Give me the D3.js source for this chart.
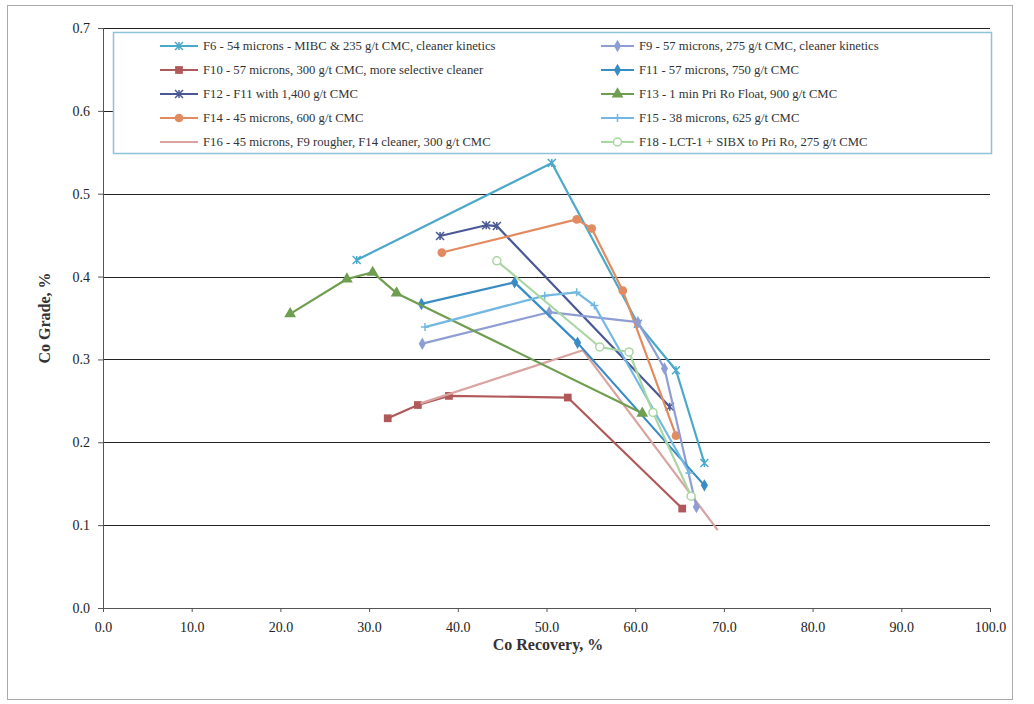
<!DOCTYPE html>
<html>
<head>
<meta charset="utf-8">
<script src="https://cdn.jsdelivr.net/npm/d3@7"></script>
<style>
  body { margin: 0; background: #fff; }
  svg text { font-family: "Liberation Serif", "Times New Roman", serif; }
</style>
</head>
<body>
<script>
// series names, in legend order (left column then right column)
var names = [
  "F6 - 54 microns - MIBC & 235 g/t CMC, cleaner kinetics",
  "F10 - 57 microns, 300 g/t CMC, more selective cleaner",
  "F12 - F11 with 1,400 g/t CMC",
  "F14 - 45 microns, 600 g/t CMC",
  "F16 - 45 microns, F9 rougher, F14 cleaner, 300 g/t CMC",
  "F9 - 57 microns, 275 g/t CMC, cleaner kinetics",
  "F11 - 57 microns, 750 g/t CMC",
  "F13 - 1 min Pri Ro Float, 900 g/t CMC",
  "F15 - 38 microns, 625 g/t CMC",
  "F18 - LCT-1 + SIBX to Pri Ro, 275 g/t CMC"
]

// recovery (x) and grade (y) per series
var f6_x  = [28.6, 50.6, 60.3, 64.6, 67.8]
var f6_y  = [0.420, 0.537, 0.343, 0.287, 0.175]
var f10_x = [32.1, 35.5, 39.0, 52.4, 65.3]
var f10_y = [0.229, 0.245, 0.256, 0.254, 0.120]
var f12_x = [38.0, 43.2, 44.4, 63.9]
var f12_y = [0.449, 0.462, 0.461, 0.243]
var f14_x = [38.2, 53.4, 55.1, 58.6, 64.6]
var f14_y = [0.429, 0.469, 0.458, 0.383, 0.208]
var f16_x = [35.8, 54.1, 69.3]
var f16_y = [0.247, 0.311, 0.094]
var f9_x  = [36.0, 50.3, 60.3, 63.3, 66.9]
var f9_y  = [0.319, 0.357, 0.345, 0.289, 0.122]
var f11_x = [35.9, 46.4, 53.5, 67.8]
var f11_y = [0.367, 0.393, 0.320, 0.148]
var f13_x = [21.1, 27.5, 30.4, 33.1, 60.8]
var f13_y = [0.355, 0.397, 0.405, 0.380, 0.235]
var f15_x = [36.3, 49.8, 53.4, 55.4, 66.1]
var f15_y = [0.339, 0.377, 0.381, 0.365, 0.163]
var f18_x = [44.4, 56.0, 59.3, 62.0, 66.3]
var f18_y = [0.419, 0.315, 0.309, 0.236, 0.135]

var xs = [f6_x, f10_x, f12_x, f14_x, f16_x, f9_x, f11_x, f13_x, f15_x, f18_x]
var ys = [f6_y, f10_y, f12_y, f14_y, f16_y, f9_y, f11_y, f13_y, f15_y, f18_y]

var colors = ["#4aa8c8", "#b0585a", "#4a5896", "#e38b60", "#d9a3a0",
              "#8e9ed2", "#3a8cc4", "#6f9e50", "#72b8e2", "#a9d6a2"]
var markers = ["x", "square", "x", "circle", "none",
               "diamond", "diamond", "triangle", "plus", "ocircle"]

var xTicks = [0, 10, 20, 30, 40, 50, 60, 70, 80, 90, 100]
var yTicks = [0, 0.1, 0.2, 0.3, 0.4, 0.5, 0.6, 0.7]

var width = 1034, height = 704
var margin = {top: 28, right: 44, bottom: 96, left: 103}

var svg = d3.select("body").append("svg")
    .attr("width", width)
    .attr("height", height)

// outer frame of the scanned figure
svg.append("rect")
    .attr("x", 7.5).attr("y", 5.5)
    .attr("width", 1005).attr("height", 694)
    .attr("fill", "none")
    .attr("stroke", "#aaa")
    .attr("stroke-width", 1)

var x = d3.scaleLinear().domain([0, 100]).range([margin.left, width - margin.right])
var y = d3.scaleLinear().domain([0, 0.7]).range([height - margin.bottom, margin.top])

// horizontal gridlines
svg.append("g")
  .selectAll("line")
  .data(yTicks.slice(1))
  .enter().append("line")
    .attr("x1", x(0)).attr("x2", x(100))
    .attr("y1", function(d) { return Math.round(y(d)) + 0.5 })
    .attr("y2", function(d) { return Math.round(y(d)) + 0.5 })
    .attr("stroke", "#222")
    .attr("stroke-width", 1.2)

// axes
var gx = svg.append("g")
    .attr("transform", "translate(0," + y(0) + ")")
    .call(d3.axisBottom(x).tickValues(xTicks).tickFormat(d3.format(".1f")).tickSize(4).tickPadding(10))
var gy = svg.append("g")
    .attr("transform", "translate(" + x(0) + ",0)")
    .call(d3.axisLeft(y).tickValues(yTicks).tickFormat(d3.format(".1f")).tickSize(5).tickPadding(8))

svg.selectAll(".domain").attr("stroke", "#555")
svg.selectAll(".tick line").attr("stroke", "#555")
svg.selectAll(".tick text")
    .attr("fill", "#222")
    .style("font-size", "14px")
    .style("font-family", "Liberation Serif, serif")

// axis titles
svg.append("text")
    .attr("x", 548).attr("y", 650)
    .attr("text-anchor", "middle")
    .style("font-size", "16px").style("font-weight", "bold")
    .attr("fill", "#333")
    .text("Co Recovery, %")

svg.append("text")
    .attr("transform", "translate(50,318) rotate(-90)")
    .attr("text-anchor", "middle")
    .style("font-size", "16px").style("font-weight", "bold")
    .attr("fill", "#333")
    .text("Co Grade, %")

// draws one marker at (cx, cy)
function marker(g, type, cx, cy, color) {
  if (type == "none") return
  if (type == "x") {
    g.append("path")
      .attr("d", "M-4,-4L4,4M-4,4L4,-4M0,-4L0,4")
      .attr("transform", "translate(" + cx + "," + cy + ")")
      .attr("stroke", color).attr("stroke-width", 1.5).attr("fill", "none")
  } else if (type == "plus") {
    g.append("path")
      .attr("d", "M-4,0L4,0M0,-4L0,4")
      .attr("transform", "translate(" + cx + "," + cy + ")")
      .attr("stroke", color).attr("stroke-width", 1.5).attr("fill", "none")
  } else if (type == "ocircle") {
    g.append("circle")
      .attr("cx", cx).attr("cy", cy).attr("r", 4)
      .attr("fill", "#fff").attr("stroke", color).attr("stroke-width", 1.5)
  } else {
    var sym = {square: d3.symbolSquare, circle: d3.symbolCircle,
               diamond: d3.symbolDiamond, triangle: d3.symbolTriangle}[type]
    var size = type == "diamond" ? 45 : 60
    g.append("path")
      .attr("d", d3.symbol().type(sym).size(size)())
      .attr("transform", "translate(" + cx + "," + cy + ")")
      .attr("fill", color)
  }
}

var line = d3.line()
    .x(function(d) { return x(d[0]) })
    .y(function(d) { return y(d[1]) })

// draw the series
var plot = svg.append("g")
for (var i = 0; i < names.length; i++) {
  var pts = xs[i].map(function(v, j) { return [v, ys[i][j]] })
  plot.append("path")
    .datum(pts)
    .attr("d", line)
    .attr("fill", "none")
    .attr("stroke", colors[i])
    .attr("stroke-width", 2.2)
    .attr("stroke-linejoin", "round")
  for (var j = 0; j < pts.length; j++) {
    marker(plot, markers[i], x(pts[j][0]), y(pts[j][1]), colors[i])
  }
}

// legend
var lg = svg.append("g")
lg.append("rect")
    .attr("x", 113.5).attr("y", 32.5)
    .attr("width", 878).attr("height", 121)
    .attr("fill", "#fff")
    .attr("stroke", "#8cc3d8")
    .attr("stroke-width", 1.5)

var rowY = [46, 70, 94, 118, 142]
for (var k = 0; k < names.length; k++) {
  var col = k < 5 ? 0 : 1
  var ry = rowY[k % 5]
  var lx0 = col == 0 ? 160 : 601
  var lx1 = col == 0 ? 198 : 634
  lg.append("line")
    .attr("x1", lx0).attr("x2", lx1)
    .attr("y1", ry).attr("y2", ry)
    .attr("stroke", colors[k]).attr("stroke-width", 2)
  marker(lg, markers[k], (lx0 + lx1) / 2, ry, colors[k])
  lg.append("text")
    .attr("x", lx1 + 5).attr("y", ry + 4)
    .attr("fill", "#333")
    .style("font-size", "12.7px")
    .text(names[k])
}
</script>
</body>
</html>
